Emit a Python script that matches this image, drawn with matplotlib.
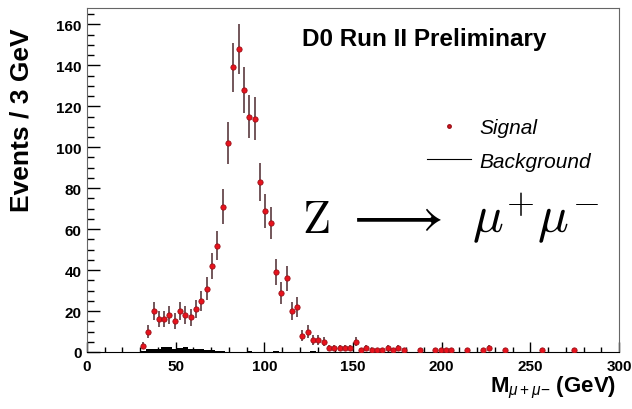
import numpy as np
import matplotlib
matplotlib.use('Agg')
import matplotlib.pyplot as plt
from matplotlib.lines import Line2D

plt.rcParams['font.family'] = ['Liberation Sans', 'DejaVu Sans']
plt.rcParams['mathtext.fontset'] = 'custom'
plt.rcParams['mathtext.rm'] = 'Liberation Sans'
plt.rcParams['mathtext.it'] = 'Liberation Sans:italic'
plt.rcParams['mathtext.bf'] = 'Liberation Sans:bold'

# dimuon candidates, 3 GeV bins (only non-empty bins listed)
sig_mass = [31.5, 34.5, 37.5, 40.5, 43.5, 46.5, 49.5, 52.5, 55.5, 58.5,
            61.5, 64.5, 67.5, 70.5, 73.5, 76.5, 79.5, 82.5, 85.5, 88.5,
            91.5, 94.5, 97.5, 100.5, 103.5, 106.5, 109.5, 112.5, 115.5, 118.5,
            121.5, 124.5, 127.5, 130.5, 133.5, 136.5, 139.5, 142.5, 145.5, 148.5,
            151.5, 154.5, 157.5, 160.5, 163.5, 166.5, 169.5, 172.5, 175.5, 178.5,
            187.5, 196.5, 199.5, 202.5, 205.5, 214.5, 223.5, 226.5, 235.5, 256.5,
            274.5]
sig_counts = [3, 10, 20, 16, 16, 18, 15, 20, 18, 17,
              21, 25, 31, 42, 52, 71, 102, 139, 148, 128,
              115, 114, 83, 69, 63, 39, 29, 36, 20, 22,
              8, 10, 6, 6, 5, 2, 2, 2, 2, 2,
              5, 1, 2, 1, 1, 1, 2, 1, 2, 1,
              1, 1, 1, 1, 1, 1, 1, 2, 1, 1,
              1]

# background estimate, low bin edges and contents
bg_low = [30, 33, 36, 39, 42, 45, 48, 51, 54, 57, 60, 63, 66, 69, 72, 75,
          90, 105, 126]
bg_counts = [0.3, 1.3, 1.4, 1.6, 2.3, 2.2, 1.7, 2.1, 2.3, 1.6, 1.5, 1.3, 1.1,
             0.9, 0.6, 0.3, 0.3, 0.3, 0.3]
bin_width = 3

fig = plt.figure(figsize=(6.32, 4.10), dpi=100)
ax = fig.add_axes([87 / 632, 57 / 410, 532 / 632, 344 / 410])

# background as a filled histogram
ax.bar(bg_low, bg_counts, width=bin_width, align='edge', color='black', linewidth=0)

sig = np.array(sig_counts, dtype=float)
ax.errorbar(sig_mass, sig, yerr=np.sqrt(sig), fmt='o', ms=3.8,
            mfc='#e8121c', mec='#9a1018', mew=0.6,
            ecolor='#5a3a3e', elinewidth=1.2, capsize=0, zorder=3)

ax.set_xlim(0, 300)
ax.set_ylim(0, 168)
ax.set_xticks(np.arange(0, 301, 50))
ax.set_xticks(np.arange(0, 301, 10), minor=True)
ax.set_yticks(np.arange(0, 161, 20))
ax.set_yticks(np.arange(0, 168, 5), minor=True)
ax.tick_params(axis='both', which='both', direction='in', top=False, right=False)
ax.tick_params(axis='x', which='major', length=7, width=1, pad=5)
ax.tick_params(axis='x', which='minor', length=3.6, width=1)
ax.tick_params(axis='y', which='major', length=9.5, width=1, pad=4)
ax.tick_params(axis='y', which='minor', length=5, width=1)
for lab in ax.get_xticklabels() + ax.get_yticklabels():
    lab.set_fontweight('bold')
    lab.set_fontsize(11)

for side in ['top', 'right', 'left']:
    ax.spines[side].set_color('#666666')
ax.spines['bottom'].set_color('black')

handles = [Line2D([], [], ls='none', marker='o', ms=2.5, mfc='#e8121c', mec='#9a1018'),
           Line2D([], [], color='black', lw=0.8)]
ax.legend(handles, ['Signal', 'Background'], frameon=False,
          prop={'style': 'italic', 'size': 15},
          loc='upper left', bbox_to_anchor=(417 / 632, (410 - 109) / 410),
          bbox_transform=fig.transFigure, handlelength=2.1,
          handletextpad=0.4, labelspacing=0.68, borderpad=0)

ax.text(121.3, 149.8, 'D0 Run II Preliminary', fontsize=17.5, fontweight='bold',
        ha='left', va='baseline')

# Z -> mu+ mu- label, pieces spread out along the line
ax.text(121.3, 58.5, r'$\mathrm{Z}$', fontsize=33, math_fontfamily='cm',
        ha='left', va='baseline')
ax.text(173, 58.5, r'$\longrightarrow$', fontsize=41, math_fontfamily='cm',
        ha='center', va='baseline')
ax.text(253, 58.5, r'$\mu^{+}\mu^{-}$', fontsize=37, math_fontfamily='cm',
        ha='center', va='baseline')

fig.text(22 / 632, (410 - 120) / 410, 'Events / 3 GeV', rotation=90,
         fontsize=19, fontweight='bold', ha='center', va='center')
fig.text(490 / 632, 18 / 410, r'M$_{\mu+\mu\mathrm{-}}$ (GeV)',
         fontsize=16, fontweight='bold', ha='left', va='baseline')

fig.savefig('out.png', dpi=100)
